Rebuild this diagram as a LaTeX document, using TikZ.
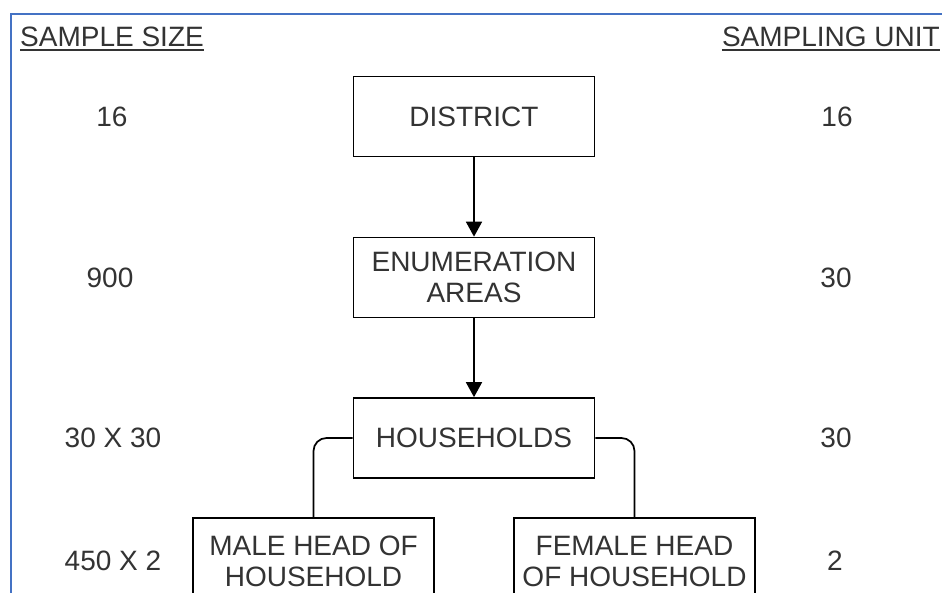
\documentclass[tikz,border=0pt]{standalone}
\usepackage{fontspec}
\setmainfont{Liberation Sans}
\usetikzlibrary{arrows.meta}
\definecolor{txt}{HTML}{333333}
\definecolor{frameblue}{RGB}{68,114,196}
\begin{document}
\begin{tikzpicture}[x=1pt,y=-1pt,
  every node/.style={font=\fontsize{28}{31}\selectfont, text=txt},
  box/.style={draw=black, line width=1.7pt, minimum width=241pt, minimum height=80pt, align=center, inner sep=0pt},
  lbl/.style={inner sep=0pt},
  conn/.style={draw=black, line width=1.7pt},
  uline/.style={draw=txt, line width=1.6pt}
]
\useasboundingbox (0,0) rectangle (942,592);
\clip (0,0) rectangle (942,592);
\fill[white] (0,0) rectangle (942,592);
% frame
\draw[frameblue, line width=2pt] (11,600) -- (11,14) -- (960,14);

% headers
\node[lbl, anchor=base west] (ss) at (20,46) {SAMPLE SIZE};
\draw[uline] ([yshift=-4pt]ss.base west) -- ([yshift=-4pt]ss.base east);
\node[lbl, anchor=base east] (su) at (940,46) {SAMPLING UNIT};
\draw[uline] ([yshift=-4pt]su.base west) -- ([yshift=-4pt]su.base east);

% boxes
\node[box] (district) at (474,116.5) {DISTRICT};
\node[box] (enum) at (474,277.5) {ENUMERATION\\AREAS};
\node[box] (hh) at (474,438) {HOUSEHOLDS};
\node[box, minimum height=86pt] (male) at (313.5,561) {MALE HEAD OF\\HOUSEHOLD};
\node[box, minimum height=86pt] (female) at (634.5,561) {FEMALE HEAD\\OF HOUSEHOLD};

% connectors
\draw[conn, -{Triangle[width=16pt,length=15pt]}] (district) -- (enum);
\draw[conn, -{Triangle[width=16pt,length=15pt]}] (enum) -- (hh);
\draw[conn, rounded corners=13pt] (hh.west) -| (male.north);
\draw[conn, rounded corners=13pt] (hh.east) -| (female.north);

% left labels
\node[lbl] (l1) at (112,117) {16};
\node[lbl] (l2) at (110,278) {900};
\node[lbl] (l3) at (113,438) {30 X 30};
\node[lbl] (l4) at (113,561) {450 X 2};
% right labels
\node[lbl] (r1) at (837,117) {16};
\node[lbl] (r2) at (836,278) {30};
\node[lbl] (r3) at (836,438) {30};
\node[lbl] (r4) at (835,561) {2};
\end{tikzpicture}
\end{document}
